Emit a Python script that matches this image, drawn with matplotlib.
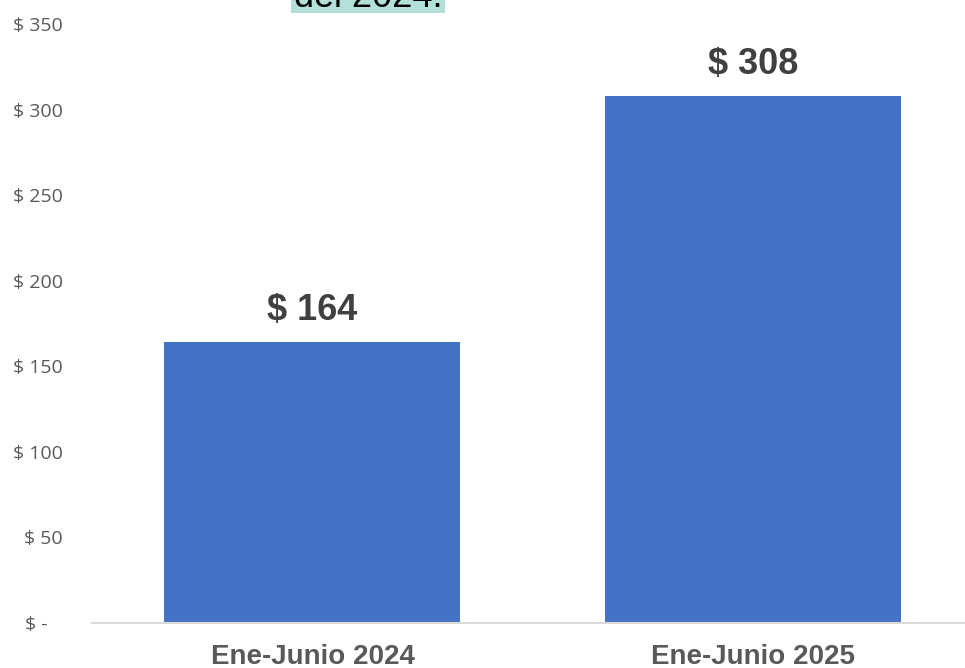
import matplotlib
matplotlib.use("Agg")
import matplotlib.pyplot as plt
from matplotlib.patches import Rectangle

categories = ["Ene-Junio 2024", "Ene-Junio 2025"]
values = [164, 308]
value_labels = ["$ 164", "$ 308"]
yticks = [0, 50, 100, 150, 200, 250, 300, 350]
ytick_labels = ["$ -   ", "$ 50", "$ 100", "$ 150", "$ 200", "$ 250", "$ 300", "$ 350"]

W, H = 965, 668
fig = plt.figure(figsize=(W / 100, H / 100), dpi=100)
ax = fig.add_axes([92 / W, (H - 623) / H, 1 - 92 / W, (623 - 24) / H])

x = list(range(len(categories)))
ax.bar(x, values, width=296 / 441, color="#4472c4", zorder=2)
ax.set_xlim(-0.5, 1.4796)
ax.set_ylim(0, 350)

for xi, v, lab in zip(x, values, value_labels):
    ax.annotate(lab, (xi, v), xytext=(0, 10), textcoords="offset points",
                ha="center", va="bottom", fontsize=26, fontweight="bold",
                family="Liberation Sans", color="#404040")

ax.set_yticks(yticks)
ax.set_yticklabels(ytick_labels, fontsize=14, family="Open Sans", color="#595959")
ax.set_xticks(x)
ax.set_xticklabels(categories, fontsize=20, fontweight="bold",
                   family="Liberation Sans", color="#595959")
ax.tick_params(axis="y", length=0, pad=21)
ax.tick_params(axis="x", length=0, pad=15)

for s in ["top", "right", "left"]:
    ax.spines[s].set_visible(False)
ax.spines["bottom"].set_color("#d9d9d9")
ax.spines["bottom"].set_linewidth(1.5)

# partially visible annotation at the top
fig.patches.append(Rectangle((291 / W, (H - 13) / H), (445 - 291) / W, 13 / H,
                             transform=fig.transFigure, facecolor="#b3e0d8",
                             edgecolor="none", zorder=0))
fig.text(368 / W, (H - 7) / H, "del 2024.", ha="center", va="baseline",
         fontsize=26, family="Liberation Sans", color="#000000", zorder=3)

fig.savefig("out.png", dpi=100, facecolor="white")
